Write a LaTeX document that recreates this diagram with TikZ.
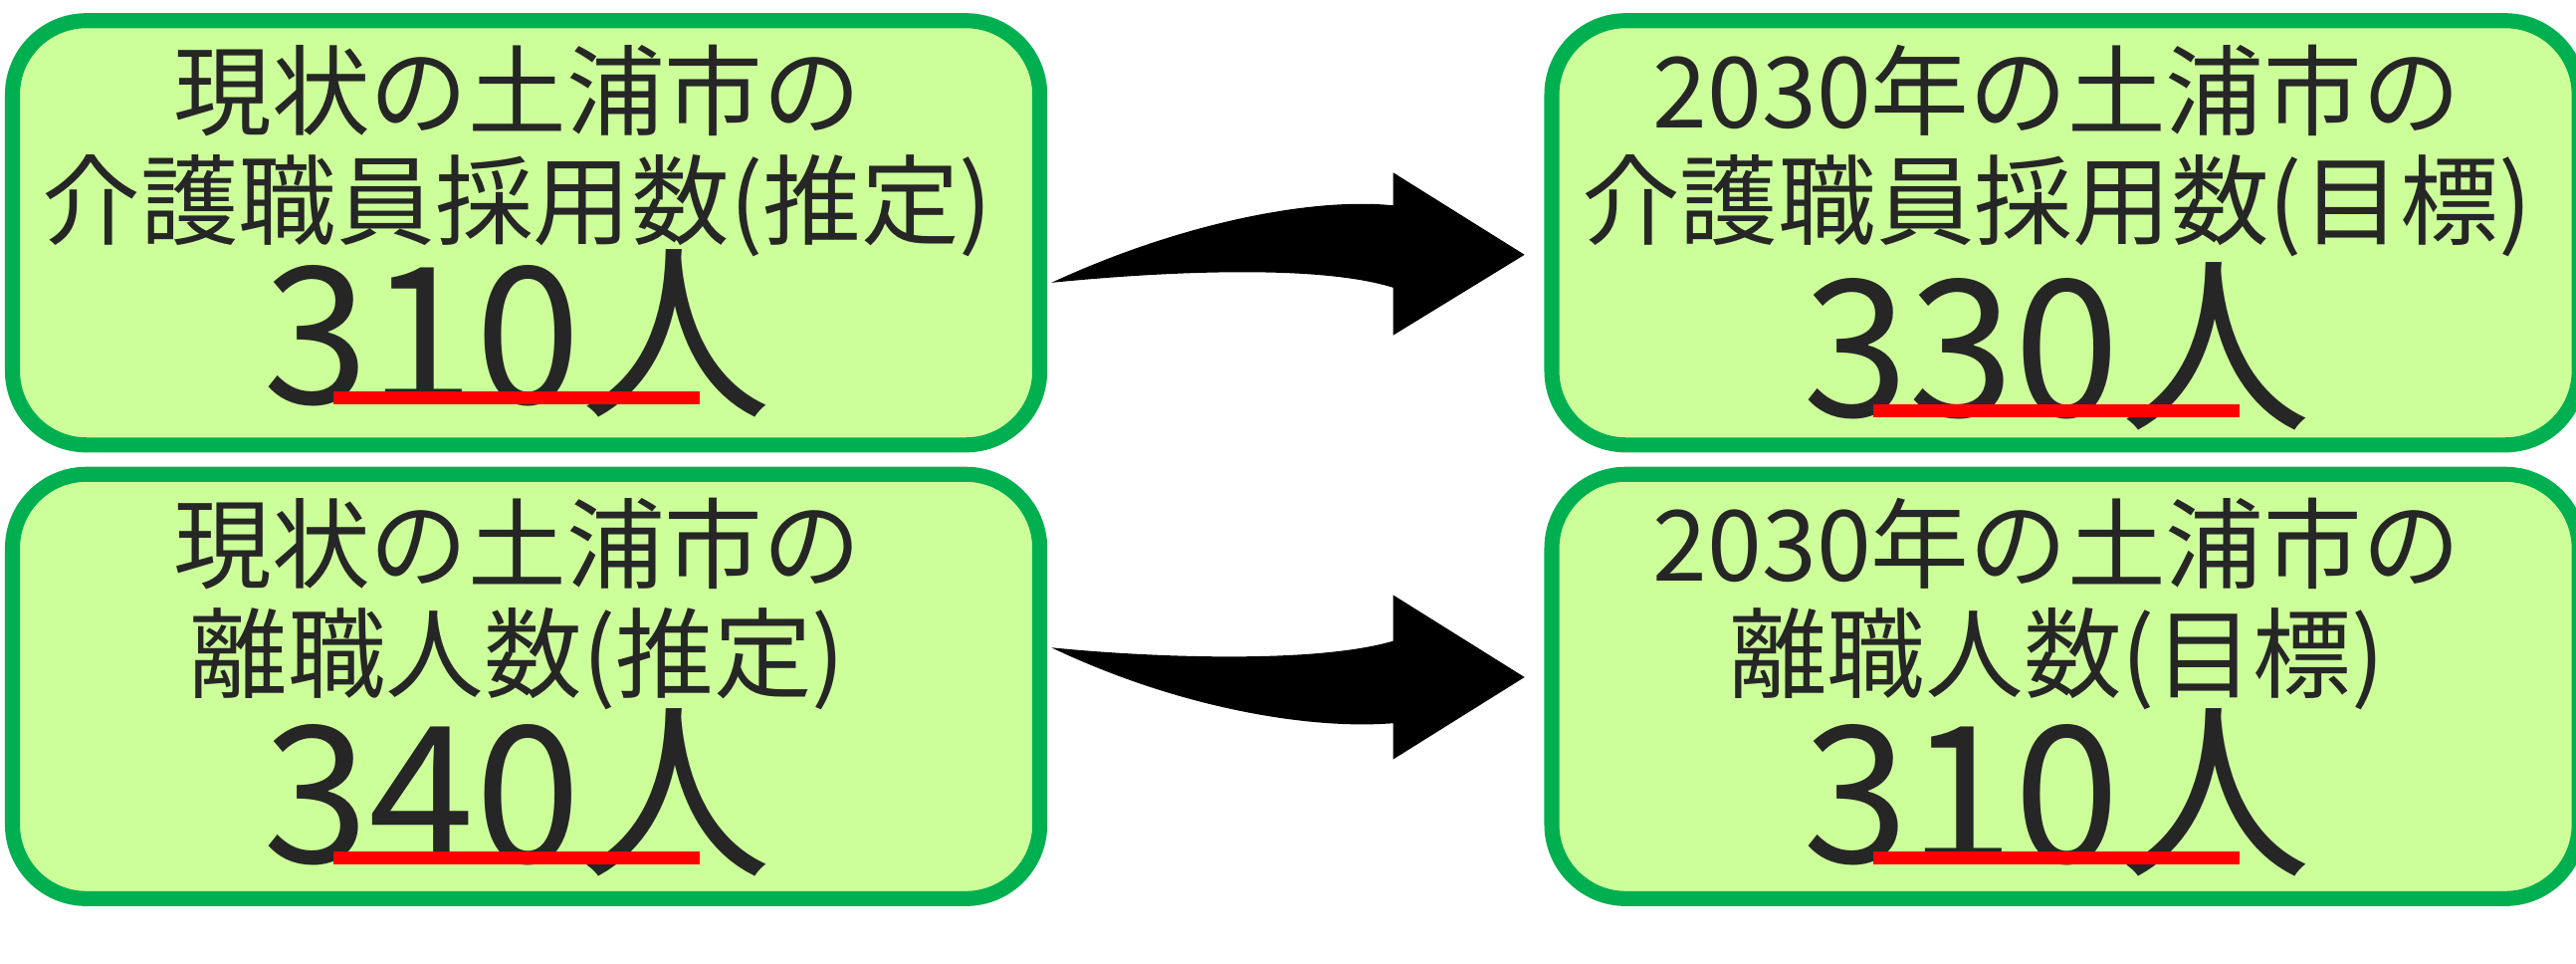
\documentclass[tikz,border=0pt]{standalone}
\usepackage{fontspec}
\setmainfont{Noto Sans CJK JP}
\tikzset{
  infobox/.style={draw=boxgreen, line width=2.6pt, fill=boxfill, rounded corners=0.45cm,
    minimum width=6.25cm, minimum height=2.58cm, anchor=north west, inner sep=0pt},
  caption/.style={font=\fontsize{17}{20}\selectfont, text=textgray},
  bignum/.style={font=\fontsize{33}{36}\selectfont, text=textgray},
  redline/.style={draw=red, line width=2.2pt},
  bigarrow/.style={fill=black}
}
\definecolor{boxgreen}{HTML}{00B050}
\definecolor{boxfill}{HTML}{CCFF99}
\definecolor{textgray}{HTML}{262626}
\begin{document}
\begin{tikzpicture}[x=0.01cm, y=-0.01cm]
\useasboundingbox (0,0) rectangle (1568,586);

% boxes
\node[infobox] (nowhire) at (3,8) {};
\node[infobox] (goalhire) at (940,8) {};
\node[infobox] (nowquit) at (3,284) {};
\node[infobox] (goalquit) at (940,284) {};

% top row texts
\node[caption] (nowhire1) at (315,55) {現状の土浦市の};
\node[caption] (nowhire2) at (315,125) {介護職員採用数(推定)};
\node[bignum] (nowhire3) at (315,203) {310人};
\draw[redline] (203,242) -- (426,242);

\node[caption] (goalhire1) at (1252,55) {2030年の土浦市の};
\node[caption] (goalhire2) at (1252,125) {介護職員採用数(目標)};
\node[bignum] (goalhire3) at (1252,211) {330人};
\draw[redline] (1140,250) -- (1363,250);

% bottom row texts
\node[caption] (nowquit1) at (315,331) {現状の土浦市の};
\node[caption] (nowquit2) at (315,401) {離職人数(推定)};
\node[bignum] (nowquit3) at (315,482) {340人};
\draw[redline] (203,522) -- (426,522);

\node[caption] (goalquit1) at (1252,331) {2030年の土浦市の};
\node[caption] (goalquit2) at (1252,401) {離職人数(目標)};
\node[bignum] (goalquit3) at (1252,482) {310人};
\draw[redline] (1140,522) -- (1363,522);

% arrows
\fill[bigarrow] (640,172) .. controls (720,135) and (800,120) .. (848,125)
  -- (848,105) -- (928,155) -- (848,204) -- (848,175)
  .. controls (800,160) and (700,166) .. cycle;
\fill[bigarrow] (640,394) .. controls (700,400) and (800,404) .. (848,390)
  -- (848,362) -- (928,412) -- (848,462) -- (848,440)
  .. controls (800,444) and (720,432) .. cycle;

\end{tikzpicture}
\end{document}
